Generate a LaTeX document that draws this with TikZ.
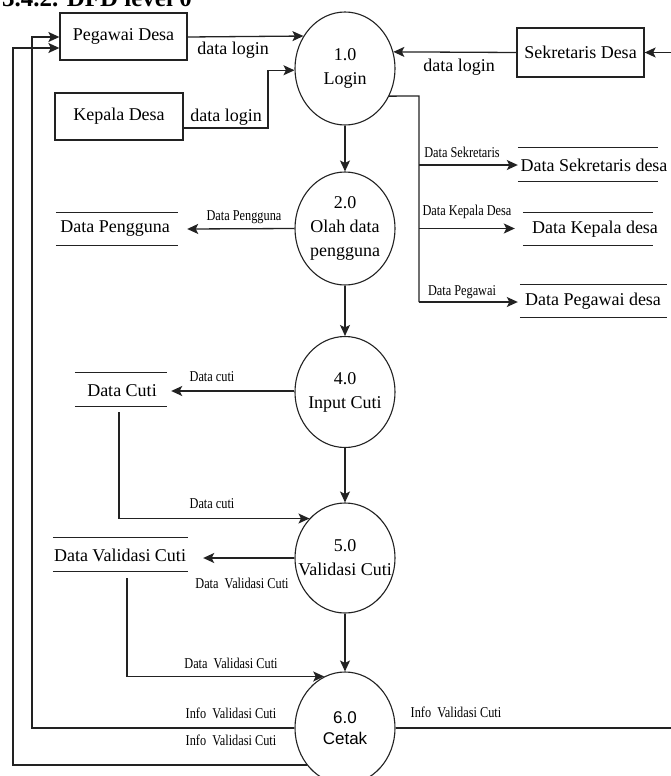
\documentclass[tikz,border=0pt]{standalone}
\usepackage{fontspec}
\setmainfont{Liberation Serif}
\newfontfamily\condf[FakeStretch=0.82]{Liberation Serif}
\newfontfamily\sansf{Liberation Sans}
\usetikzlibrary{shapes.geometric,arrows.meta,calc}
\definecolor{ink}{HTML}{222222}
\begin{document}
\begin{tikzpicture}[x=1pt,y=-1pt,
  ent/.style={draw=ink, rectangle, line width=1.3pt, inner sep=0pt, font=\fontsize{18}{22}\selectfont},
  proc/.style={draw=ink, ellipse, minimum width=100pt, minimum height=113pt, inner sep=0pt, line width=1.1pt},
  ptext/.style={inner sep=0pt, align=center, font=\fontsize{18}{24}\selectfont},
  flow/.style={draw=ink, line width=1.3pt, -{Stealth[length=11pt,width=10pt,inset=2.5pt]}},
  wire/.style={draw=ink, line width=1.3pt},
  lbl/.style={inner sep=0pt, font=\fontsize{18}{22}\selectfont},
  slbl/.style={inner sep=0pt, font=\condf\fontsize{15}{18}\selectfont},
  sbox/.style={rectangle, inner sep=0pt, minimum height=33pt},
  stext/.style={inner sep=0pt, font=\fontsize{18}{22}\selectfont},
  sline/.style={draw=ink, line width=1.3pt}]
\useasboundingbox (0,0) rectangle (671,776);
\fill[white] (0,0) rectangle (671,776);

% title
\node[anchor=base west, inner sep=0pt, font=\bfseries\fontsize{25}{29}\selectfont] (title) at (2,7) {3.4.2. DFD level 0};

% externals
\node[ent, minimum width=127pt, minimum height=47pt] (pd) at (123.5,36.5) {Pegawai Desa};
\node[ent, minimum width=128pt, minimum height=47pt] (kd) at (119,116.5) {Kepala Desa};
\node[ent, minimum width=127pt, minimum height=49pt] (sd) at (580.5,52.5) {Sekretaris Desa};

% processes
\node[proc] (p1) at (345,68.5) {};
\node[ptext] (p1t) at (p1) {1.0\\Login};
\node[proc] (p2) at (345,228.5) {};
\node[ptext] (p2t) at (p2) {2.0\\Olah data\\pengguna};
\node[proc, minimum height=111pt] (p4) at (345,392) {};
\node[ptext] (p4t) at (p4) {4.0\\Input Cuti};
\node[proc, minimum height=110pt] (p5) at (345,558) {};
\node[ptext] (p5t) at (p5) {5.0\\Validasi Cuti};
\node[proc, minimum height=112pt] (p6) at (345,728) {};
\node[ptext, font=\sansf\fontsize{17}{21}\selectfont] (p6t) at (p6) {6.0\\Cetak};

% data stores
\node[sbox, minimum width=140pt] (dsek) at (588,164.5) {};
\node[stext] (dsekt) at (594,165) {Data Sekretaris desa};
\node[sbox, minimum width=130pt, minimum height=32pt] (dkep) at (588,229) {};
\node[stext] (dkept) at (595,229) {Data Kepala desa};
\node[sbox, minimum width=147pt, minimum height=32pt] (dpeg) at (593.5,301) {};
\node[stext] (dpegt) at (593,301) {Data Pegawai desa};
\node[sbox, minimum width=122pt, minimum height=32pt] (dpg) at (117,229) {};
\node[stext] (dpgt) at (115,229) {Data Pengguna};
\node[sbox, minimum width=92pt] (dct) at (121,389.5) {};
\node[stext] (dctt) at (122,391) {Data Cuti};
\node[sbox, minimum width=135pt] (dvc) at (120.5,554.5) {};
\node[stext] (dvct) at (120,555) {Data Validasi Cuti};
\foreach \s in {dsek,dkep,dpeg,dpg,dct,dvc}{
  \draw[sline] (\s.north west) -- (\s.north east) (\s.south west) -- (\s.south east);
}

% coordinates
\coordinate (rtop) at (671,52.5);
\coordinate (rbot) at (671,728);
\coordinate (innerx) at (32,0);
\coordinate (outerx) at (13,0);
\coordinate (bus) at (419,96);
\coordinate (b1) at (419,165);
\coordinate (b2) at (419,228.5);
\coordinate (b3) at (419,302);
\coordinate (kdo) at (183,128);
\coordinate (kdm) at (268,128);

% flows into login
\draw[flow] (pd.east |- 0,37) -- (p1.142.8);
\draw[flow] (kdo) -- (kdm) |- (p1.182);
\draw[flow] (sd.west) -- (p1.19);
\draw[flow] (rtop) -- (sd.east);

% login to stores
\draw[wire] (p1.-32.2) -- (bus) -- (b3);
\draw[flow] (b1) -- (dsek.west |- b1);
\draw[flow] (b2) -- ($(dkep.west |- b2)+(-8,0)$);
\draw[flow] (b3) -- ($(dpeg.west |- b3)+(-2,0)$);

% vertical chain
\draw[flow] (p1.south) -- (p2.north);
\draw[flow] (p2.south) -- (p4.north);
\draw[flow] (p4.south) -- (p5.north);
\draw[flow] (p5.south) -- (p6.north);

% to stores on left
\draw[flow] (p2.west) -- ($(dpg.east)+(9,0)$);
\draw[flow] (p4.west |- 0,391) -- ($(dct.east |- 0,391)+(4,0)$);
\draw[flow] ($(dct.south)+(-2,6)$) |- (p5.132);
\draw[flow] (p5.west) -- ($(dvc.east |- p5.west)+(15,0)$);
\draw[flow] ($(dvc.south)+(6.5,7)$) |- (p6.112);

% from cetak
\draw[flow] (p6.west) -- (p6.west -| innerx) |- (pd.west |- 0,37);
\draw[flow] (p6.224.6) -- (p6.224.6 -| outerx) |- (pd.west |- 0,48);
\draw[wire] (p6.east) -- (rbot);

% labels
\node[lbl] (l1) at (233,50) {data login};
\node[lbl] (l2) at (226,117) {data login};
\node[lbl] (l3) at (459,67) {data login};
\node[slbl] (l4) at (462,152) {Data Sekretaris};
\node[slbl] (l5) at (467,212) {Data Kepala Desa};
\node[slbl] (l6) at (462,292) {Data Pegawai};
\node[slbl] (l7) at (244,217) {Data Pengguna};
\node[slbl] (l8) at (212,377) {Data cuti};
\node[slbl] (l9) at (212,504) {Data cuti};
\node[slbl] (l10) at (242,583) {Data\ \ Validasi Cuti};
\node[slbl] (l11) at (231,663) {Data\ \ Validasi Cuti};
\node[slbl] (l12) at (231,713) {Info\ \ Validasi Cuti};
\node[slbl] (l13) at (231,740) {Info\ \ Validasi Cuti};
\node[slbl] (l14) at (456,712) {Info\ \ Validasi Cuti};
\end{tikzpicture}
\end{document}
